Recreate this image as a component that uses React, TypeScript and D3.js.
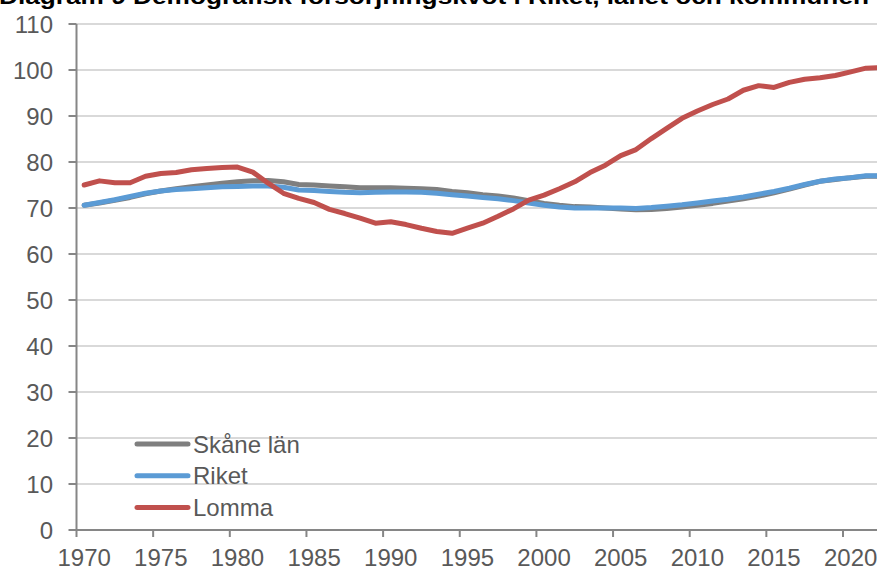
import React, { useEffect } from "react";
import * as d3 from "d3";

const years: number[] = d3.range(1970, 2023);

const skane: number[] = [
  70.6, 71.1, 71.7, 72.3, 73.1, 73.7, 74.2, 74.6, 75.0, 75.4,
  75.7, 75.9, 76.0, 75.7, 75.1, 75.0, 74.8, 74.6, 74.4, 74.4,
  74.4, 74.3, 74.2, 74.0, 73.6, 73.3, 72.9, 72.6, 72.2, 71.6,
  71.0, 70.6, 70.3, 70.2, 70.0, 69.8, 69.6, 69.7, 69.9, 70.2,
  70.6, 71.0, 71.5, 72.0, 72.6, 73.3, 74.1, 75.0, 75.8, 76.2,
  76.6, 76.9, 76.9,
];

const riket: number[] = [
  70.6, 71.2, 71.8, 72.5, 73.2, 73.7, 74.0, 74.2, 74.4, 74.6,
  74.7, 74.8, 74.8, 74.5, 73.9, 73.8, 73.6, 73.4, 73.3, 73.4,
  73.5, 73.5, 73.4, 73.2, 72.9, 72.6, 72.3, 72.0, 71.6, 71.1,
  70.6, 70.2, 70.0, 70.0, 70.0, 70.0, 69.9, 70.1, 70.4, 70.7,
  71.1, 71.5, 71.9, 72.4, 73.0, 73.6, 74.3, 75.1, 75.8, 76.3,
  76.6, 77.0, 77.0,
];

const lomma: number[] = [
  75.0, 75.9, 75.5, 75.5, 76.9, 77.5, 77.7, 78.3, 78.6, 78.8,
  78.9, 77.8, 75.4, 73.2, 72.1, 71.2, 69.7, 68.8, 67.8, 66.7,
  67.0, 66.4, 65.6, 64.9, 64.5, 65.6, 66.7, 68.2, 69.8, 71.7,
  72.8, 74.2, 75.7, 77.7, 79.3, 81.4, 82.7, 85.1, 87.3, 89.5,
  91.1, 92.5, 93.7, 95.6, 96.6, 96.2, 97.3, 98.0, 98.3, 98.8,
  99.6, 100.4, 100.5,
];

const yTicks: number[] = d3.range(0, 111, 10);
const xTicks: number[] = d3.range(1970, 2021, 5);

const seriesNames: string[] = ["Skåne län", "Riket", "Lomma"];
const seriesColors: string[] = ["#7f7f7f", "#5b9bd5", "#c0504d"];

const title = "Diagram 9 Demografisk försörjningskvot i Riket, länet och kommunen";

export default function App() {
  useEffect(() => {
    document.body.style.margin = "0";
  }, []);

  const W = 877;
  const H = 567;
  const x = d3.scaleLinear().domain([1970, 2020]).range([76.5, 843]);
  const y = d3.scaleLinear().domain([0, 110]).range([530, 24]);
  const plotRight = 877;

  const line = d3
    .line<number>()
    .x((_, i) => x(years[i] + 0.5))
    .y((d) => y(d))
    .curve(d3.curveLinear);

  const series = [skane, riket, lomma];
  const font = "Arial, 'Liberation Sans', sans-serif";
  const textColor = "#595959";
  const axisColor = "#868686";
  const fs = 24;

  return (
    <svg width={W} height={H} style={{ display: "block" }} fontFamily={font}>
      <rect width={W} height={H} fill="#ffffff" />
      <text
        x={-1}
        y={4}
        fontSize={22}
        fontWeight="bold"
        fill="#000"
        textLength={870}
        lengthAdjust="spacingAndGlyphs"
      >
        {title}
      </text>
      {yTicks
        .filter((t) => t > 0)
        .map((t) => (
          <line key={"g" + t} x1={x(1970)} x2={plotRight} y1={y(t)} y2={y(t)} stroke="#d9d9d9" strokeWidth={2} />
        ))}
      {series.map((s, i) => (
        <path
          key={seriesNames[i]}
          d={line(s) || ""}
          fill="none"
          stroke={seriesColors[i]}
          strokeWidth={5}
          strokeLinejoin="round"
          strokeLinecap="round"
        />
      ))}
      {/* y axis */}
      <line x1={x(1970)} x2={x(1970)} y1={y(110)} y2={y(0) + 1} stroke={axisColor} strokeWidth={2} />
      {yTicks.map((t) => (
        <g key={"y" + t}>
          <line x1={x(1970) - 8} x2={x(1970)} y1={y(t)} y2={y(t)} stroke={axisColor} strokeWidth={2} />
          <text x={53} y={y(t)} dy="0.36em" textAnchor="end" fontSize={fs} fill={textColor}>
            {t}
          </text>
        </g>
      ))}
      {/* x axis */}
      <line x1={x(1970) - 1} x2={plotRight} y1={y(0)} y2={y(0)} stroke={axisColor} strokeWidth={2} />
      {xTicks.map((t) => (
        <g key={"x" + t}>
          <line x1={x(t)} x2={x(t)} y1={y(0)} y2={y(0) + 7} stroke={axisColor} strokeWidth={2} />
          <text x={x(t + 0.5)} y={566} textAnchor="middle" fontSize={fs} fill={textColor}>
            {t}
          </text>
        </g>
      ))}
      {/* legend */}
      {seriesNames.map((n, i) => {
        const ly = 444 + i * 31.7;
        return (
          <g key={"l" + n}>
            <line x1={137} x2={188} y1={ly} y2={ly} stroke={seriesColors[i]} strokeWidth={5} strokeLinecap="round" />
            <text x={193} y={ly} dy="0.36em" fontSize={fs} fill={textColor}>
              {n}
            </text>
          </g>
        );
      })}
    </svg>
  );
}
